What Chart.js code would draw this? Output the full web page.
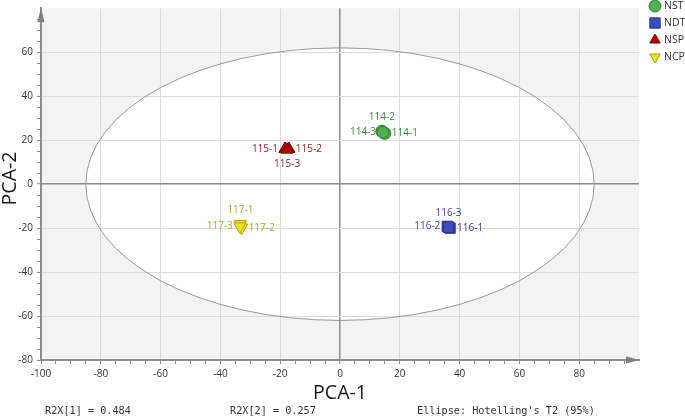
<!DOCTYPE html>
<html>
<head>
<meta charset="utf-8">
<script src="https://cdn.jsdelivr.net/npm/chart.js@4/dist/chart.umd.min.js"></script>
<style>
  html, body { margin: 0; padding: 0; background: #ffffff; }
  #wrap { width: 685px; height: 418px; position: relative; }
</style>
</head>
<body>
<div id="wrap"><canvas id="c" width="685" height="418"></canvas></div>
<script>
// ---- data ----
const groupNames = ['NST', 'NDT', 'NSP', 'NCP'];

const nstIds = ['114-1', '114-2', '114-3'];
const nstPC1 = [15.0, 14.0, 14.4];
const nstPC2 = [23.1, 24.1, 23.6];

const ndtIds = ['116-1', '116-2', '116-3'];
const ndtPC1 = [36.8, 35.9, 36.3];
const ndtPC2 = [-20.0, -19.2, -19.6];

const nspIds = ['115-1', '115-2', '115-3'];
const nspPC1 = [-18.4, -17.1, -17.7];
const nspPC2 = [16.0, 16.0, 15.7];

const ncpIds = ['117-1', '117-2', '117-3'];
const ncpPC1 = [-33.3, -32.9, -33.5];
const ncpPC2 = [-18.2, -19.8, -19.2];

const xTickValues = [-100, -80, -60, -40, -20, 0, 20, 40, 60, 80];
const yTickValues = [-80, -60, -40, -20, 0, 20, 40, 60];
const ellipseRadii = [85, 62];   // Hotelling's T2 (95%) semi-axes in PC units
const footerTexts = ['R2X[1] = 0.484', 'R2X[2] = 0.257', "Ellipse: Hotelling's T2 (95%)"];
const axisTitles = ['PCA-1', 'PCA-2'];

// ---- styles ----
const labelSide = {
  '114-1': 'right', '114-2': 'above', '114-3': 'left',
  '116-1': 'right', '116-2': 'left', '116-3': 'above',
  '115-1': 'left', '115-2': 'right', '115-3': 'below',
  '117-1': 'above', '117-2': 'right', '117-3': 'left'
};

function pts(xs, ys, ids) {
  return xs.map((x, i) => ({ x: x, y: ys[i], id: ids[i] }));
}

const datasets = [
  { label: groupNames[0], data: pts(nstPC1, nstPC2, nstIds), pointStyle: 'circle', pointRadius: 6,
    backgroundColor: '#4fb04f', borderColor: '#2f7d32', borderWidth: 1, labelColor: '#3d8a3d' },
  { label: groupNames[1], data: pts(ndtPC1, ndtPC2, ndtIds), pointStyle: 'rect', pointRadius: 7.3,
    backgroundColor: '#3b4fbf', borderColor: '#27338a', borderWidth: 1, labelColor: '#3c3f96' },
  { label: groupNames[2], data: pts(nspPC1, nspPC2, nspIds), pointStyle: 'triangle', pointRadius: 7,
    backgroundColor: '#b30000', borderColor: '#7a0000', borderWidth: 1, labelColor: '#8f2626' },
  { label: groupNames[3], data: pts(ncpPC1, ncpPC2, ncpIds), pointStyle: 'triangle', rotation: 180, pointRadius: 7,
    backgroundColor: '#f2e21e', borderColor: '#b3a200', borderWidth: 1, labelColor: '#b8a22c' }
];

const monoFont = '10.2px "DejaVu Sans Mono", monospace';
const uiFont = '"Open Sans", "Noto Sans", sans-serif';

const bgPlugin = {
  id: 'bgEllipse',
  beforeDraw(chart) {
    const { ctx, chartArea: a, scales: { x, y } } = chart;
    ctx.save();
    ctx.fillStyle = '#f3f3f3';
    ctx.fillRect(a.left, a.top, a.right - a.left, a.bottom - a.top);
    const cx = x.getPixelForValue(0), cy = y.getPixelForValue(0);
    const rx = x.getPixelForValue(ellipseRadii[0]) - cx;
    const ry = cy - y.getPixelForValue(ellipseRadii[1]);
    ctx.beginPath();
    ctx.ellipse(cx, cy, rx, ry, 0, 0, Math.PI * 2);
    ctx.fillStyle = '#ffffff';
    ctx.fill();
    ctx.restore();
  },
  beforeDatasetsDraw(chart) {
    const { ctx, scales: { x, y } } = chart;
    const cx = x.getPixelForValue(0), cy = y.getPixelForValue(0);
    const rx = x.getPixelForValue(ellipseRadii[0]) - cx;
    const ry = cy - y.getPixelForValue(ellipseRadii[1]);
    ctx.save();
    ctx.beginPath();
    ctx.ellipse(cx, cy, rx, ry, 0, 0, Math.PI * 2);
    ctx.strokeStyle = '#9a9a9a';
    ctx.lineWidth = 1;
    ctx.stroke();
    // axis arrows
    ctx.fillStyle = '#808080';
    const a = chart.chartArea;
    ctx.beginPath();
    ctx.moveTo(a.left, a.top - 1);
    ctx.lineTo(a.left - 3.5, a.top + 14);
    ctx.lineTo(a.left + 3.5, a.top + 14);
    ctx.closePath();
    ctx.fill();
    ctx.beginPath();
    ctx.moveTo(a.right + 1, a.bottom);
    ctx.lineTo(a.right - 13, a.bottom - 3.5);
    ctx.lineTo(a.right - 13, a.bottom + 3.5);
    ctx.closePath();
    ctx.fill();
    ctx.restore();
  },
  afterDatasetsDraw(chart) {
    const { ctx } = chart;
    ctx.save();
    ctx.font = '10px ' + uiFont;
    chart.data.datasets.forEach((ds, di) => {
      const meta = chart.getDatasetMeta(di);
      meta.data.forEach((el, i) => {
        const id = ds.data[i].id;
        const side = labelSide[id];
        ctx.fillStyle = ds.labelColor;
        ctx.textBaseline = 'middle';
        let tx = el.x, ty = el.y;
        if (side === 'left') { ctx.textAlign = 'right'; tx -= 7; }
        else if (side === 'right') { ctx.textAlign = 'left'; tx += 7; }
        else if (side === 'above') { ctx.textAlign = 'center'; ty -= 14; }
        else { ctx.textAlign = 'center'; ty += 15; }
        ctx.fillText(id, tx, ty);
      });
    });
    ctx.restore();
  },
  afterDraw(chart) {
    const { ctx, chartArea: a } = chart;
    ctx.save();
    // axis titles
    ctx.fillStyle = '#1a1a1a';
    ctx.font = '19.5px ' + uiFont;
    ctx.textAlign = 'center';
    ctx.textBaseline = 'middle';
    ctx.fillText(axisTitles[0], (a.left + a.right) / 2, 393);
    ctx.translate(10, 178.5);
    ctx.rotate(-Math.PI / 2);
    ctx.fillText(axisTitles[1], 0, 0);
    ctx.setTransform(1, 0, 0, 1, 0, 0);
    // footer
    ctx.font = monoFont;
    ctx.fillStyle = '#333333';
    ctx.textAlign = 'left';
    ctx.fillText(footerTexts[0], 45, 411);
    ctx.fillText(footerTexts[1], 230, 411);
    ctx.fillText(footerTexts[2], 417, 411);
    // legend
    const lx = 655, ly0 = 6, step = 17;
    chart.data.datasets.forEach((ds, i) => {
      const cy = ly0 + i * step;
      ctx.fillStyle = ds.backgroundColor;
      ctx.strokeStyle = ds.borderColor;
      ctx.lineWidth = 1;
      Chart.helpers.drawPoint(ctx, { pointStyle: ds.pointStyle, rotation: ds.rotation || 0,
        radius: ds.pointStyle === 'rect' ? 7.3 : 6, borderWidth: 1 }, lx, cy);
      ctx.fillStyle = '#333333';
      ctx.font = '10.5px ' + uiFont;
      ctx.textAlign = 'left';
      ctx.textBaseline = 'middle';
      ctx.fillText(ds.label, 664, cy);
    });
    ctx.restore();
  }
};

function gridColor(ctx, maxV) {
  const v = ctx.tick ? ctx.tick.value : null;
  if (v === null) return 'rgba(0,0,0,0)';
  if (v === 0) return '#8c8c8c';
  if (v === maxV) return 'rgba(0,0,0,0)';
  if (v % 20 === 0) return '#dcdcdc';
  return 'rgba(0,0,0,0)';
}

new Chart(document.getElementById('c'), {
  type: 'scatter',
  data: { datasets: datasets },
  options: {
    responsive: false,
    animation: false,
    devicePixelRatio: 1,
    layout: { padding: { left: 0, top: 2, right: 46, bottom: 0 } },
    plugins: { legend: { display: false }, tooltip: { enabled: false } },
    scales: {
      x: {
        type: 'linear', min: -100, max: 100,
        afterBuildTicks(scale) {
          const t = [];
          for (let v = -100; v <= 100; v += 5) t.push({ value: v });
          scale.ticks = t;
        },
        afterFit(scale) { scale.height = 58; scale.paddingLeft = 0; scale.paddingRight = 0; },
        border: { display: true, color: '#8c8c8c', width: 2 },
        grid: {
          color: (c) => gridColor(c, 100),
          lineWidth: (c) => (c.tick && c.tick.value === 0 ? 1.5 : 1),
          drawTicks: true, tickLength: 4,
          tickColor: (c) => (c.tick && c.tick.value === 100 ? 'rgba(0,0,0,0)' : '#8c8c8c'),
          tickWidth: 1
        },
        ticks: {
          autoSkip: false, maxRotation: 0, padding: 4,
          color: '#333333', font: { family: uiFont, size: 10 },
          callback: (v) => (xTickValues.includes(v) ? String(v) : '')
        }
      },
      y: {
        type: 'linear', min: -80, max: 80,
        afterBuildTicks(scale) {
          const t = [];
          for (let v = -80; v <= 80; v += 5) t.push({ value: v });
          scale.ticks = t;
        },
        afterFit(scale) { scale.width = 41; scale.paddingTop = 0; scale.paddingBottom = 0; },
        border: { display: true, color: '#8c8c8c', width: 2 },
        grid: {
          color: (c) => gridColor(c, 80),
          lineWidth: (c) => (c.tick && c.tick.value === 0 ? 1.5 : 1),
          drawTicks: true, tickLength: 4,
          tickColor: (c) => (c.tick && c.tick.value === 80 ? 'rgba(0,0,0,0)' : '#8c8c8c'),
          tickWidth: 1
        },
        ticks: {
          autoSkip: false, padding: 4,
          color: '#333333', font: { family: uiFont, size: 10 },
          callback: (v) => (yTickValues.includes(v) ? String(v) : '')
        }
      }
    }
  },
  plugins: [bgPlugin]
});
</script>
</body>
</html>
